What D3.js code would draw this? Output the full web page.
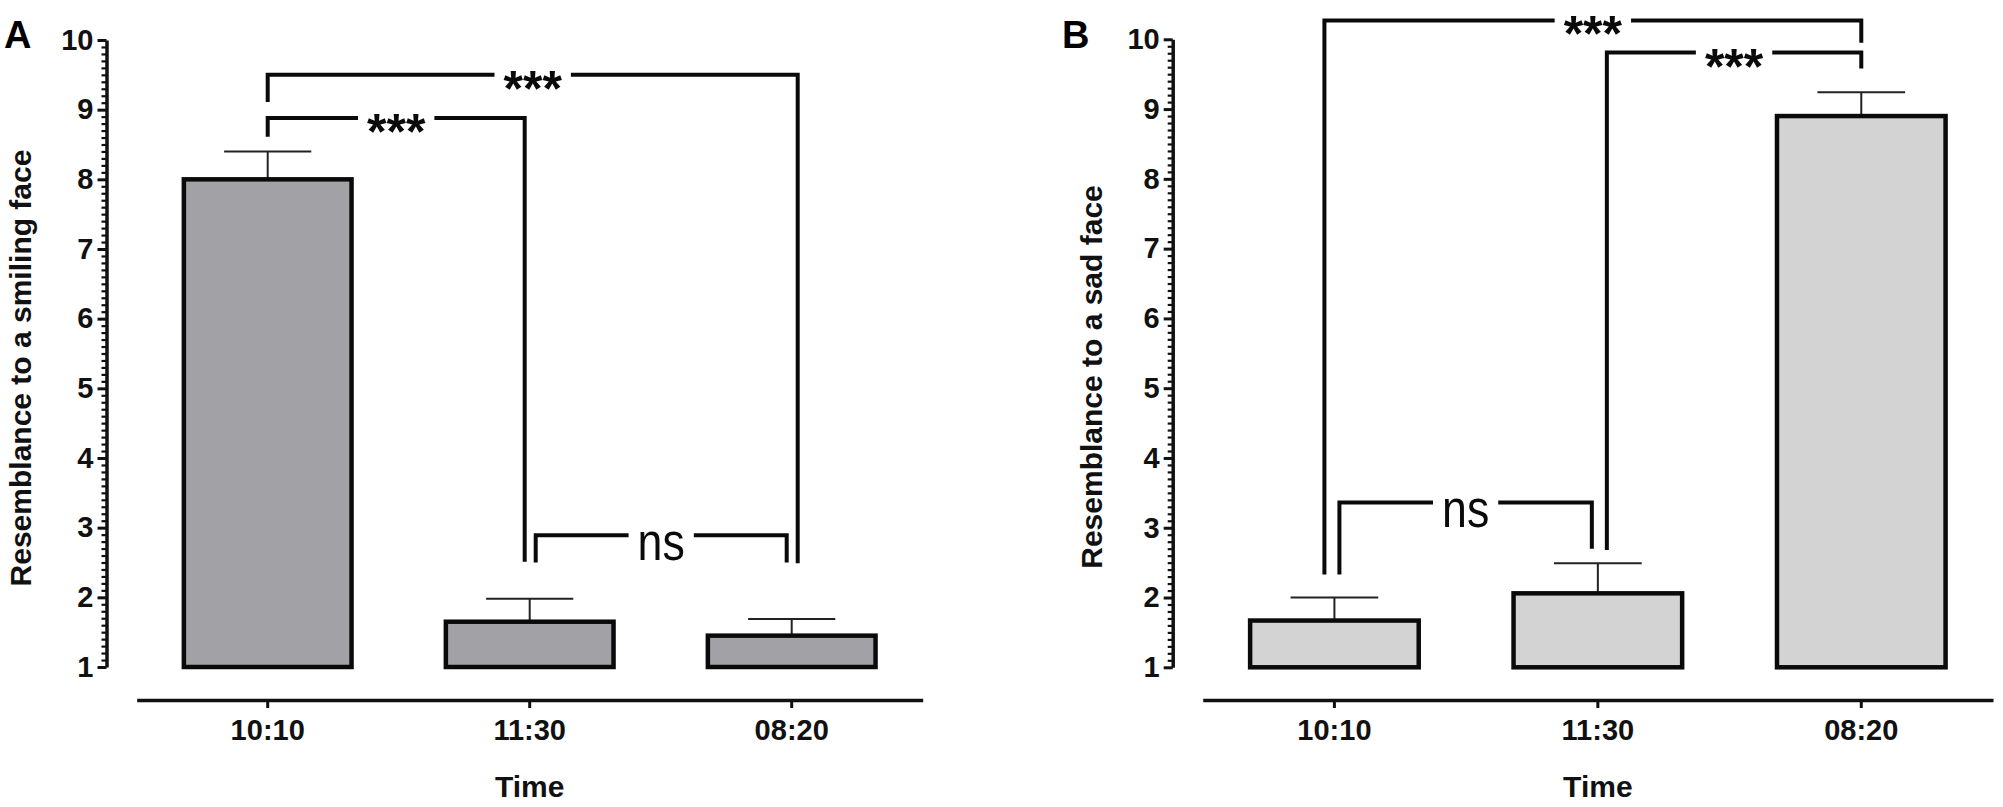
<!DOCTYPE html>
<html>
<head>
<meta charset="utf-8">
<script src="https://cdn.jsdelivr.net/npm/d3@7"></script>
<style>
  html, body { margin: 0; padding: 0; background: #ffffff; }
  svg { display: block; }
  text { font-family: "Liberation Sans", Arial, Helvetica, sans-serif; }
</style>
</head>
<body>
<svg id="chart" width="2003" height="807"></svg>
<script>
// ---------------- data ----------------
const categories = ["10:10", "11:30", "08:20"];

const smileMean = [8.0, 1.65, 1.45];
const smileErr  = [0.40, 0.33, 0.24];

const sadMean = [1.67, 2.06, 8.90];
const sadErr  = [0.33, 0.43, 0.34];

const yTicks = [1, 2, 3, 4, 5, 6, 7, 8, 9, 10];

// significance brackets: from / to category index, bar level, leg ends (data units), label
const smileBrackets = [
  { from: 0, to: 2, level: 9.50, leftEnd: 9.11, rightEnd: 2.49, label: "***" },
  { from: 0, to: 1, level: 8.88, leftEnd: 8.61, rightEnd: 2.51, label: "***" },
  { from: 1, to: 2, level: 2.89, leftEnd: 2.50, rightEnd: 2.50, label: "ns" }
];
const sadBrackets = [
  { from: 0, to: 2, level: 10.27, leftEnd: 2.33, rightEnd: 9.95, label: "***" },
  { from: 1, to: 2, level: 9.81,  leftEnd: 2.68, rightEnd: 9.58, label: "***" },
  { from: 0, to: 1, level: 3.36,  leftEnd: 2.33, rightEnd: 2.70, label: "ns" }
];

const panelLetters = ["A", "B"];
const yTitles = ["Resemblance to a smiling face", "Resemblance to a sad face"];
const xTitle = "Time";

// ---------------- layout (styles / positions) ----------------
const smileNudge = [[0, 6], [0, -5], [6, -5]];
const sadNudge   = [[-10, 0], [9, 0], [5, -6]];

const svg = d3.select("#chart");

function drawPanel(opt) {
  const g = svg.append("g");

  const x = d3.scaleBand()
    .domain(categories)
    .range(opt.xRange)
    .paddingInner(0.36)
    .paddingOuter(0.18);

  const y = d3.scaleLinear().domain([1, 10]).range(opt.yRange);

  // panel letter
  g.append("text")
    .attr("x", opt.letterX).attr("y", 48)
    .attr("font-size", 38).attr("font-weight", "bold")
    .text(opt.letter);

  // y axis minor ticks
  const minor = d3.range(11, 100).filter(v => v % 10 !== 0).map(v => v / 10);
  const yMinor = g.append("g")
    .attr("transform", `translate(${opt.yAxisX},0)`)
    .call(d3.axisLeft(y).tickValues(minor).tickSize(5).tickSizeOuter(0).tickFormat(""));
  yMinor.select(".domain").remove();
  yMinor.selectAll(".tick line").attr("stroke", "#111").attr("stroke-width", 2.2);

  // y axis major
  const yAx = g.append("g")
    .attr("transform", `translate(${opt.yAxisX},0)`)
    .call(d3.axisLeft(y).tickValues(yTicks).tickSize(9).tickSizeOuter(0).tickPadding(4)
      .tickFormat(d3.format("d")));
  yAx.select(".domain").attr("stroke", "#111").attr("stroke-width", 3.5);
  yAx.selectAll(".tick line").attr("stroke", "#111").attr("stroke-width", 3);
  yAx.selectAll(".tick text")
    .attr("font-family", '"Liberation Sans", Arial, sans-serif')
    .attr("font-size", 29).attr("font-weight", "bold").attr("fill", "#111");

  // y title
  g.append("text")
    .attr("transform", `translate(${opt.yTitleX},${opt.yTitleY}) rotate(-90)`)
    .attr("text-anchor", "middle")
    .attr("font-size", 30).attr("font-weight", "bold").attr("fill", "#111")
    .text(opt.yTitle);

  // x axis
  const xAx = g.append("g")
    .attr("transform", `translate(0,${opt.xAxisY})`)
    .call(d3.axisBottom(x).tickSize(8).tickSizeOuter(0).tickPadding(11));
  xAx.select(".domain").attr("stroke", "#111").attr("stroke-width", 3.5);
  xAx.selectAll(".tick line").attr("stroke", "#111").attr("stroke-width", 3);
  xAx.selectAll(".tick text")
    .attr("font-family", '"Liberation Sans", Arial, sans-serif')
    .attr("font-size", 29).attr("font-weight", "bold").attr("fill", "#111");

  // x title
  g.append("text")
    .attr("x", x(categories[1]) + x.bandwidth() / 2).attr("y", 797)
    .attr("text-anchor", "middle")
    .attr("font-size", 30).attr("font-weight", "bold").attr("fill", "#111")
    .text(xTitle);

  const cx = i => x(categories[i]) + x.bandwidth() / 2;

  // error bars
  const capW = x.bandwidth() * 0.52;
  const eb = g.append("g");
  opt.mean.forEach((m, i) => {
    const top = y(m + opt.err[i]);
    eb.append("line")
      .attr("x1", cx(i)).attr("x2", cx(i))
      .attr("y1", y(m)).attr("y2", top)
      .attr("stroke", "#222").attr("stroke-width", 2);
    eb.append("line")
      .attr("x1", cx(i) - capW / 2).attr("x2", cx(i) + capW / 2)
      .attr("y1", top).attr("y2", top)
      .attr("stroke", "#222").attr("stroke-width", 2);
  });

  // bars
  g.append("g").selectAll("rect")
    .data(opt.mean)
    .join("rect")
    .attr("x", (d, i) => x(categories[i]))
    .attr("width", x.bandwidth())
    .attr("y", d => y(d))
    .attr("height", d => y(1) - y(d))
    .attr("fill", opt.fill)
    .attr("stroke", "#0a0a0a")
    .attr("stroke-width", 4.5);

  // brackets
  const bg = g.append("g");
  opt.brackets.forEach((b, k) => {
    const xl = cx(b.from) + opt.nudge[k][0];
    const xr = cx(b.to) + opt.nudge[k][1];
    const yl = y(b.level);
    const mid = (xl + xr) / 2;
    const isNs = b.label === "ns";
    const t = bg.append("text")
      .attr("text-anchor", "middle")
      .attr("fill", "#0a0a0a")
      .text(b.label);
    let w;
    if (isNs) {
      t.attr("font-size", 52).attr("font-weight", "normal")
       .attr("transform", `translate(${mid},${yl + 24.5}) scale(0.86,1)`);
      w = t.node().getComputedTextLength() * 0.86;
    } else {
      t.attr("font-size", 50).attr("font-weight", "bold")
       .attr("transform", `translate(${mid},${yl + 31})`);
      w = t.node().getComputedTextLength();
    }
    const pad = 9;
    bg.append("path")
      .attr("d", `M${xl},${y(b.leftEnd)}V${yl}H${mid - w / 2 - pad}`)
      .attr("fill", "none").attr("stroke", "#0a0a0a").attr("stroke-width", 4)
      .attr("stroke-linejoin", "miter");
    bg.append("path")
      .attr("d", `M${mid + w / 2 + pad},${yl}H${xr}V${y(b.rightEnd)}`)
      .attr("fill", "none").attr("stroke", "#0a0a0a").attr("stroke-width", 4)
      .attr("stroke-linejoin", "miter");
  });
}

drawPanel({
  letter: panelLetters[0], letterX: 4,
  yTitle: yTitles[0], yTitleX: 31, yTitleY: 368,
  yAxisX: 106.5, xRange: [136.7, 922.7], yRange: [667, 40], xAxisY: 700,
  mean: smileMean, err: smileErr, fill: "#a2a1a6",
  brackets: smileBrackets, nudge: smileNudge
});

drawPanel({
  letter: panelLetters[1], letterX: 1062,
  yTitle: yTitles[1], yTitleX: 1102, yTitleY: 377,
  yAxisX: 1172.7, xRange: [1202.7, 1993], yRange: [667.3, 39.3], xAxisY: 700,
  mean: sadMean, err: sadErr, fill: "#d3d3d3",
  brackets: sadBrackets, nudge: sadNudge
});
</script>
</body>
</html>
